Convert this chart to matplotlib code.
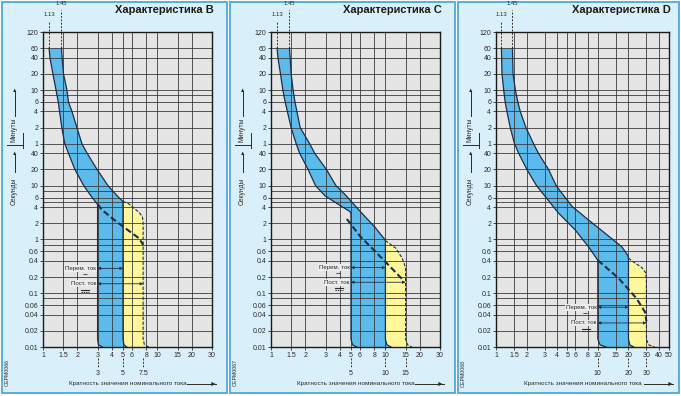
import numpy as np
import matplotlib.pyplot as plt
from matplotlib.patches import Rectangle
from matplotlib.lines import Line2D
from matplotlib.ticker import NullLocator

plt.rcParams['font.family'] = ['Liberation Sans', 'DejaVu Sans']

W, H = 681, 396

# time axis in seconds; labels switch from minutes to seconds at 1 min
y_ticks = [7200, 3600, 2400, 1200, 600, 360, 240, 120, 60,
           40, 20, 10, 6, 4, 2, 1, 0.6, 0.4, 0.2, 0.1, 0.06, 0.04, 0.02, 0.01]
y_labels = ['120', '60', '40', '20', '10', '6', '4', '2', '1',
            '40', '20', '10', '6', '4', '2', '1', '0.6', '0.4', '0.2', '0.1',
            '0.06', '0.04', '0.02', '0.01']
y_extra = [480, 8, 5, 0.8, 0.08]

x_ticks_bc = [1, 1.5, 2, 3, 4, 5, 6, 8, 10, 15, 20, 30]
x_labels_bc = ['1', '1.5', '2', '3', '4', '5', '6', '8', '10', '15', '20', '30']
x_ticks_d = [1, 1.5, 2, 3, 4, 5, 6, 8, 10, 15, 20, 30, 40, 50]
x_labels_d = ['1', '1.5', '2', '3', '4', '5', '6', '8', '10', '15', '20', '30', '40', '50']

titles = ['Характеристика B', 'Характеристика C', 'Характеристика D']
codes = ['OEPM0066', 'OEPM0067', 'OEPM0068']
thermal = [1.13, 1.45]

# --- curve B
b_left_x = [1.13, 1.15, 1.22, 1.3, 1.36, 1.46, 1.55, 1.67, 1.9, 2.27, 2.69, 3.0, 3.0, 3.05, 3.3]
b_left_t = [3600, 2400, 1200, 600, 360, 120, 60, 40, 20, 10, 6, 4.5, 0.014, 0.011, 0.01]
b_right_x = [1.45, 1.47, 1.51, 1.62, 1.67, 1.79, 1.98, 2.19, 2.43, 2.97, 3.7, 4.6, 5.0, 5.0, 5.1, 5.4]
b_right_t = [3600, 2400, 1200, 600, 360, 240, 120, 60, 40, 20, 10, 6, 5.1, 0.014, 0.011, 0.01]
b_yel_x = [5.0, 5.6, 6.25, 7.0, 7.4, 7.5, 7.5, 7.7, 8.4]
b_yel_t = [5.1, 4.6, 3.8, 3.1, 2.6, 2.0, 0.014, 0.011, 0.01]
b_dash_x = [3.0, 3.3, 4.2, 5.5, 6.9, 7.5]
b_dash_t = [4.5, 3.5, 2.3, 1.5, 1.05, 0.8]
b_marks = [3, 5, 7.5]
b_arrow_t = [0.29, 0.15]

# --- curve C
c_left_x = [1.13, 1.15, 1.21, 1.27, 1.33, 1.5, 1.66, 1.78, 2.11, 2.45, 2.96, 4.0, 4.9, 5.0, 5.0, 5.15, 5.6]
c_left_t = [3600, 2400, 1200, 600, 360, 120, 60, 40, 20, 10, 6.5, 4.3, 3.3, 3.0, 0.014, 0.011, 0.01]
c_right_x = [1.45, 1.47, 1.5, 1.56, 1.62, 1.8, 2.18, 2.41, 3.05, 3.7, 4.45, 6.2, 8.0, 9.7, 10.0, 10.0, 10.3, 11.2]
c_right_t = [3600, 2400, 1200, 600, 360, 120, 60, 40, 20, 10, 6.8, 3.1, 1.74, 1.05, 0.95, 0.014, 0.011, 0.01]
c_yel_x = [10.0, 12.3, 14.0, 15.0, 15.0, 15.6, 17.0]
c_yel_t = [0.95, 0.69, 0.45, 0.3, 0.014, 0.011, 0.01]
c_dash_x = [4.6, 6.0, 9.3, 14.5]
c_dash_t = [2.4, 1.15, 0.45, 0.17]
c_marks = [5, 10, 15]
c_arrow_t = [0.3, 0.16]

# --- curve D
d_left_x = [1.13, 1.145, 1.19, 1.23, 1.28, 1.38, 1.52, 1.67, 2.01, 2.5, 3.04, 4.1, 6.0, 8.1, 10.0, 10.0, 10.5, 12.0]
d_left_t = [3600, 1200, 600, 360, 240, 120, 60, 40, 20, 10, 6.3, 3.1, 1.5, 0.73, 0.41, 0.014, 0.011, 0.01]
d_right_x = [1.45, 1.47, 1.55, 1.64, 1.73, 1.97, 2.34, 2.61, 3.28, 3.9, 4.5, 5.6, 8.1, 11.8, 17.2, 19.5, 20.0, 20.0, 20.6, 22.5]
d_right_t = [3600, 1200, 600, 360, 240, 120, 60, 40, 20, 10, 7.0, 4.1, 2.3, 1.3, 0.73, 0.52, 0.45, 0.014, 0.011, 0.01]
d_yel_x = [20.0, 21.6, 27.0, 29.5, 30.0, 30.0, 31.5, 36.0]
d_yel_t = [0.45, 0.40, 0.30, 0.24, 0.18, 0.014, 0.011, 0.01]
d_dash_x = [10.0, 16.0, 24.0, 29.0, 30.0]
d_dash_t = [0.41, 0.19, 0.08, 0.045, 0.03]
d_marks = [10, 20, 30]
d_arrow_t = [0.055, 0.028]

BLUE = '#5cbbea'
YELLOW = '#fff79a'
EDGE = '#1f2d45'
GRID = '#3c3c3c'
AXBG = '#e5e5e5'
PANEL = '#d9eff9'
BORDER = '#4fa6d9'
TXT = '#2a2a2a'

fig = plt.figure(figsize=(W / 100, H / 100), dpi=100)
fig.patch.set_facecolor('white')


def fx(px):
    return px / W


def fy(py):
    return 1 - py / H


def fig_line(x0, y0, x1, y1, **kw):
    # line in figure pixel coordinates (y measured from the top)
    fig.add_artist(Line2D([fx(x0), fx(x1)], [fy(y0), fy(y1)], **kw))


frames = [(2, 227), (230, 455), (458, 679)]
boxes = [(43, 212), (271, 440), (496, 669)]
top_px, bot_px = 32, 347

panels = [
    (x_ticks_bc, x_labels_bc, b_left_x, b_left_t, b_right_x, b_right_t,
     b_yel_x, b_yel_t, b_dash_x, b_dash_t, b_marks, b_arrow_t),
    (x_ticks_bc, x_labels_bc, c_left_x, c_left_t, c_right_x, c_right_t,
     c_yel_x, c_yel_t, c_dash_x, c_dash_t, c_marks, c_arrow_t),
    (x_ticks_d, x_labels_d, d_left_x, d_left_t, d_right_x, d_right_t,
     d_yel_x, d_yel_t, d_dash_x, d_dash_t, d_marks, d_arrow_t),
]

for i, p in enumerate(panels):
    xt, xl, lx, lt, rx, rt, yx, yt, dx, dt, marks, arrow_t = p
    lx, lt, rx, rt = map(np.array, (lx, lt, rx, rt))
    yx, yt = np.array(yx), np.array(yt)
    fl, fr = frames[i]
    al, ar = boxes[i]

    fig.add_artist(Rectangle((fx(fl), fy(393)), fx(fr - fl), (393 - 2) / H,
                             transform=fig.transFigure, facecolor=PANEL,
                             edgecolor=BORDER, lw=1.3, zorder=0))

    ax = fig.add_axes([fx(al), fy(bot_px), fx(ar - al), (bot_px - top_px) / H])
    ax.set_xscale('log')
    ax.set_yscale('log')
    ax.set_xlim(xt[0], xt[-1])
    ax.set_ylim(0.01, 7200)
    ax.set_facecolor(AXBG)

    # bands
    ax.fill(np.concatenate([lx, rx[::-1]]), np.concatenate([lt, rt[::-1]]),
            color=BLUE, lw=0, zorder=0.3)
    k = rt <= yt[0]
    ax.fill(np.concatenate([yx, rx[k][::-1]]), np.concatenate([yt, rt[k][::-1]]),
            color=YELLOW, lw=0, zorder=0.3)

    # grid
    ax.hlines(y_ticks + y_extra, xt[0], xt[-1], colors=GRID, lw=0.6, zorder=0.5)
    ax.vlines(xt[1:-1], 0.01, 7200, colors=GRID, lw=0.6, zorder=0.5)

    ax.plot(lx, lt, color=EDGE, lw=0.9, zorder=3)
    ax.plot(rx, rt, color=EDGE, lw=0.9, zorder=3)
    ax.plot(yx, yt, color=EDGE, lw=0.8, dashes=(3, 1.5), zorder=3)
    ax.plot(dx, dt, color=EDGE, lw=1.5, dashes=(3, 1.5), zorder=4)

    # 1.13 / 1.45 markers
    tr = ax.get_xaxis_transform()
    f60 = np.log10(3600 / 0.01) / np.log10(7200 / 0.01)
    for v, top, lab_y in zip(thermal, [1.035, 1.07], [1.055, 1.09]):
        ax.add_line(Line2D([v, v], [f60, top], transform=tr, color='#333333',
                           lw=0.7, dashes=(2, 1.5), clip_on=False, zorder=5))
        ax.text(v, lab_y, f'{v:.2f}', transform=tr, ha='center', va='center',
                fontsize=4.2, color=TXT)

    # secondary marks under the x axis
    for m in marks:
        ax.add_line(Line2D([m, m], [-0.035, -0.066], transform=tr, color='#333333',
                           lw=0.7, dashes=(2, 1.5), clip_on=False))
        ax.text(m, -0.083, f'{m:g}', transform=tr, ha='center', va='center',
                fontsize=5, color=TXT)

    # AC / DC ranges
    for j, (t, x_end, lab) in enumerate(zip(arrow_t, marks[1:], ['Перем. ток', 'Пост. ток'])):
        ax.annotate('', xy=(x_end, t), xytext=(marks[0], t),
                    arrowprops=dict(arrowstyle='<|-|>', lw=0.6, color=EDGE,
                                    mutation_scale=4, shrinkA=0, shrinkB=0),
                    zorder=6)
        ax.text(marks[0] / 1.03, t, lab, ha='right', va='center', fontsize=4.4,
                color=TXT, zorder=6,
                bbox=dict(facecolor='#ececec', edgecolor='none', pad=0.6))
        # current type symbol under the label
        px, py = ax.transData.transform((marks[0] / 1.03, t))
        sx, sy = px - 11, H - py + 7
        if j == 0:
            fig.text(fx(sx), fy(sy), '~', ha='center', va='center', fontsize=6,
                     fontweight='bold', color=TXT, zorder=7)
        else:
            fig_line(sx - 4, sy - 1.2, sx + 4, sy - 1.2, color=TXT, lw=0.8, zorder=7)
            fig_line(sx - 4, sy + 1.0, sx + 4, sy + 1.0, color=TXT, lw=0.8,
                     dashes=(1.2, 0.9), zorder=7)

    ax.set_xticks(xt)
    ax.set_xticklabels(xl)
    ax.set_yticks(y_ticks)
    ax.set_yticklabels(y_labels)
    ax.xaxis.set_minor_locator(NullLocator())
    ax.yaxis.set_minor_locator(NullLocator())
    ax.tick_params(labelsize=5, length=2, width=0.6, pad=1.5, colors=TXT)
    for s in ax.spines.values():
        s.set_color('#1a1a1a')
        s.set_linewidth(1.0)

    # titles and side texts
    fig.text(fx(ar + 2), fy(10), titles[i], ha='right', va='center',
             fontsize=8, fontweight='bold', color='#1a1a1a')
    fig.text(fx((al + ar) / 2), fy(384), 'Кратность значения номинального тока',
             ha='center', va='center', fontsize=4.6, color=TXT)
    fig_line(ar - 25, 384, ar + 4, 384, color=TXT, lw=0.7)
    fig.text(fx(ar + 4), fy(384), '►', ha='right', va='center', fontsize=5, color=TXT)

    cx = fl + 12.5
    fig.text(fx(cx), fy(130), 'Минуты', rotation=90, ha='center', va='center',
             fontsize=4.8, color=TXT)
    fig.text(fx(cx), fy(191), 'Секунды', rotation=90, ha='center', va='center',
             fontsize=4.8, color=TXT)
    for y0, y1 in [(116, 88), (172, 151)]:
        fig_line(cx, y0, cx, y1 + 4, color=TXT, lw=0.7)
        fig.text(fx(cx), fy(y1 + 3), '▲', ha='center', va='center', fontsize=4, color=TXT)
    fig_line(fl + 5, 145, fl + 21, 145, color=TXT, lw=0.7)
    fig_line(fl + 21, 133, fl + 21, 148, color=TXT, lw=0.7)
    fig.text(fx(fl + 5), fy(373), codes[i], rotation=90, ha='center', va='center',
             fontsize=3.8, color=TXT)

fig.savefig('out.png', dpi=100)
